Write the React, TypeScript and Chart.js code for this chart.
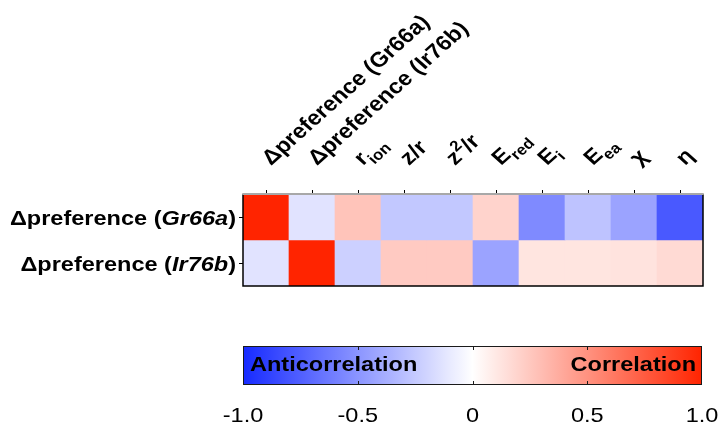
import React, { useEffect, useRef } from "react";
import { Chart, registerables } from "chart.js";
Chart.register(...registerables);

const W = 725;
const H = 423;

// ---- data ----
const rowLabels = ["Δpreference (Gr66a)", "Δpreference (Ir76b)"];
const columnLabels = ["Δpreference (Gr66a)", "Δpreference (Ir76b)", "r_ion", "z/r", "z^2/r", "E_red", "E_i", "E_ea", "χ", "η"];
const gr66aValues = [1.0, -0.13, 0.27, -0.26, -0.26, 0.2, -0.55, -0.28, -0.43, -0.78];
const ir76bValues = [-0.13, 1.0, -0.22, 0.24, 0.24, -0.43, 0.12, 0.12, 0.13, 0.17];
const colorbarTicks = [-1, -0.5, 0, 0.5, 1];
const colorbarInnerTicks = [-0.5, 0, 0.5];
const colorbarLeftText = "Anticorrelation";
const colorbarRightText = "Correlation";

// ---- style ----
const NEG = [22, 42, 255];
const POS = [255, 36, 0];
const SX = 1.12; // horizontal text stretch
const FONT = '"Liberation Sans", Arial, Helvetica, sans-serif';
const LABEL_SIZE = 21;

function colorFor(v: number): string {
  const c = v < 0 ? NEG : POS;
  const a = Math.min(1, Math.abs(v));
  const m = (k: number) => Math.round(255 + (c[k] - 255) * a);
  return `rgb(${m(0)},${m(1)},${m(2)})`;
}

type Run = { t: string; italic?: boolean; sub?: boolean; sup?: boolean };

function parseLabel(label: string, italicParen: boolean): Run[] {
  const m = label.match(/^(.*\()(.*)(\))$/);
  if (m && italicParen) return [{ t: m[1] }, { t: m[2], italic: true }, { t: m[3] }];
  if (label.includes("_")) {
    const [a, b] = label.split("_");
    return [{ t: a }, { t: b, sub: true }];
  }
  if (label.includes("^")) {
    const [a, rest] = label.split("^");
    return [{ t: a }, { t: rest.charAt(0), sup: true }, { t: rest.slice(1) }];
  }
  return [{ t: label }];
}

function runFont(r: Run, size: number, bold = true) {
  const s = r.sub || r.sup ? Math.round(size * 0.7) : size;
  return `${r.italic ? "italic " : ""}${bold ? "bold " : ""}${s}px ${FONT}`;
}

function measureRuns(ctx: CanvasRenderingContext2D, runs: Run[], size: number) {
  let w = 0;
  runs.forEach((r) => {
    ctx.font = runFont(r, size);
    w += ctx.measureText(r.t).width;
  });
  return w;
}

function drawRuns(ctx: CanvasRenderingContext2D, runs: Run[], x: number, y: number, size: number) {
  let cx = x;
  runs.forEach((r) => {
    ctx.font = runFont(r, size);
    const dy = r.sub ? size * 0.3 : r.sup ? -size * 0.42 : 0;
    ctx.fillText(r.t, cx, y + dy);
    cx += ctx.measureText(r.t).width;
  });
}

const heatPlugin = {
  id: "heatDecor",
  afterDraw(chart: any) {
    const { ctx, chartArea: ca, scales } = chart;
    const x = scales.x;
    const y = scales.y;
    ctx.save();
    // frame
    ctx.strokeStyle = "#000";
    ctx.lineWidth = 1.5;
    ctx.beginPath();
    ctx.moveTo(ca.left, ca.top);
    ctx.lineTo(ca.left, ca.bottom);
    ctx.lineTo(ca.right, ca.bottom);
    ctx.lineTo(ca.right, ca.top);
    ctx.stroke();
    ctx.strokeStyle = "#a8a8a8";
    ctx.lineWidth = 2;
    ctx.beginPath();
    ctx.moveTo(ca.left - 0.75, ca.top);
    ctx.lineTo(ca.right + 0.75, ca.top);
    ctx.stroke();

    ctx.fillStyle = "#000";
    ctx.textAlign = "left";
    ctx.textBaseline = "alphabetic";
    // row labels
    rowLabels.forEach((lab, r) => {
      const runs = parseLabel(lab, true);
      const py = y.getPixelForValue(r + 0.5) + 7.5;
      const w = measureRuns(ctx, runs, LABEL_SIZE);
      ctx.save();
      ctx.translate(ca.left - 7, py);
      ctx.scale(SX, 1);
      drawRuns(ctx, runs, -w, 0, LABEL_SIZE);
      ctx.restore();
    });
    // column labels
    columnLabels.forEach((lab, i) => {
      const runs = parseLabel(lab, false);
      const px = x.getPixelForValue(i);
      ctx.save();
      ctx.translate(px + 5, ca.top - 28);
      ctx.scale(SX, 1);
      ctx.rotate(-Math.PI / 4);
      drawRuns(ctx, runs, 0, 0, LABEL_SIZE);
      ctx.restore();
    });
    ctx.restore();
  },
};

const colorbarPlugin = {
  id: "colorbarDecor",
  afterDraw(chart: any) {
    const { ctx, chartArea: ca, scales } = chart;
    const x = scales.x;
    const x0 = x.getPixelForValue(-1);
    const x1 = x.getPixelForValue(1);
    ctx.save();
    const g = ctx.createLinearGradient(x0, 0, x1, 0);
    for (let k = 0; k <= 40; k++) {
      const v = -1 + k / 20;
      g.addColorStop(k / 40, colorFor(v));
    }
    ctx.fillStyle = g;
    ctx.fillRect(x0, ca.top, x1 - x0, ca.bottom - ca.top);
    ctx.strokeStyle = "#1a1a1a";
    ctx.lineWidth = 1;
    ctx.strokeRect(x0 + 0.5, ca.top + 0.5, x1 - x0 - 1, ca.bottom - ca.top - 1);
    ctx.beginPath();
    colorbarInnerTicks.forEach((v) => {
      const px = Math.round(x.getPixelForValue(v)) + 0.5;
      ctx.moveTo(px, ca.top);
      ctx.lineTo(px, ca.top + 4);
      ctx.moveTo(px, ca.bottom);
      ctx.lineTo(px, ca.bottom - 4);
    });
    ctx.stroke();

    ctx.fillStyle = "#000";
    ctx.textBaseline = "alphabetic";
    // inner texts
    ctx.font = `bold ${LABEL_SIZE}px ${FONT}`;
    ctx.save();
    ctx.translate(x0 + 7, ca.top + 25);
    ctx.scale(SX, 1);
    ctx.textAlign = "left";
    ctx.fillText(colorbarLeftText, 0, 0);
    ctx.restore();
    ctx.save();
    ctx.translate(x1 - 6, ca.top + 25);
    ctx.scale(SX, 1);
    ctx.textAlign = "right";
    ctx.fillText(colorbarRightText, 0, 0);
    ctx.restore();
    // tick labels
    ctx.font = `${LABEL_SIZE}px ${FONT}`;
    ctx.textAlign = "center";
    colorbarTicks.forEach((v) => {
      const px = x.getPixelForValue(v);
      const txt = v === 0 ? "0" : v.toFixed(1);
      ctx.save();
      ctx.translate(px, ca.bottom + 36.5);
      ctx.scale(SX, 1);
      ctx.fillText(txt, 0, 0);
      ctx.restore();
    });
    ctx.restore();
  },
};

export default function App() {
  const heatRef = useRef<HTMLCanvasElement>(null);
  const barRef = useRef<HTMLCanvasElement>(null);

  useEffect(() => {
    const rowsData = [gr66aValues, ir76bValues];
    const heat = new Chart(heatRef.current!, {
      type: "bar",
      data: {
        labels: columnLabels,
        datasets: rowsData.map((vals, r) => ({
          label: rowLabels[r],
          data: vals.map(() => [r, r + 1]) as any,
          backgroundColor: vals.map(colorFor),
          borderWidth: 0,
          barPercentage: 1,
          categoryPercentage: 1,
          grouped: false,
        })),
      },
      options: {
        responsive: false,
        animation: false,
        layout: { padding: { left: 239, top: 190, right: 22, bottom: 137 } },
        plugins: { legend: { display: false }, tooltip: { enabled: false } },
        scales: {
          x: {
            type: "category",
            position: "top",
            offset: true,
            grid: { offset: false, drawOnChartArea: false, drawTicks: true, tickLength: 4, color: "#000", lineWidth: 1 },
            border: { display: false },
            ticks: { display: false },
            afterFit: (s: any) => {
              s.height = 4;
            },
          },
          y: {
            type: "linear",
            min: 0,
            max: rowLabels.length,
            reverse: true,
            grid: { drawOnChartArea: false, drawTicks: true, tickLength: 4, color: "#000", lineWidth: 1 },
            border: { display: false },
            ticks: { display: false },
            afterBuildTicks: (s: any) => {
              s.ticks = rowLabels.map((_, r) => ({ value: r + 0.5 }));
            },
            afterFit: (s: any) => {
              s.width = 4;
            },
          },
        },
      },
      plugins: [heatPlugin],
    });

    const bar = new Chart(barRef.current!, {
      type: "scatter",
      data: { datasets: [] },
      options: {
        responsive: false,
        animation: false,
        layout: { padding: { left: 243, right: 23, top: 346, bottom: 38 } },
        plugins: { legend: { display: false }, tooltip: { enabled: false } },
        scales: {
          x: { type: "linear", min: -1, max: 1, display: false },
          y: { type: "linear", min: 0, max: 1, display: false },
        },
      },
      plugins: [colorbarPlugin],
    });

    return () => {
      heat.destroy();
      bar.destroy();
    };
  }, []);

  return (
    <div style={{ position: "absolute", left: 0, top: 0, width: W, height: H, background: "#fff" }}>
      <canvas ref={heatRef} width={W} height={H} style={{ position: "absolute", left: 0, top: 0 }} />
      <canvas ref={barRef} width={W} height={H} style={{ position: "absolute", left: 0, top: 0, pointerEvents: "none" }} />
    </div>
  );
}
